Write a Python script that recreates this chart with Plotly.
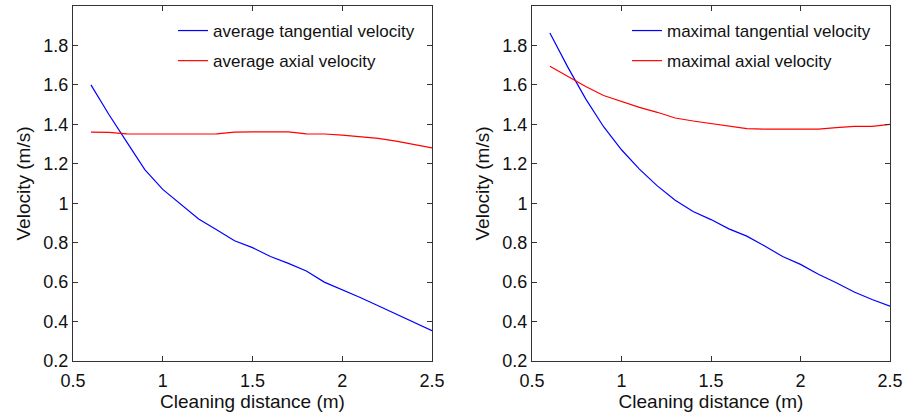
import plotly.graph_objects as go

x = [0.6, 0.7, 0.8, 0.9, 1.0, 1.1, 1.2, 1.3, 1.4, 1.5, 1.6, 1.7, 1.8, 1.9, 2.0, 2.1, 2.2, 2.3, 2.4, 2.5]

avg_tangential = [1.60, 1.45, 1.31, 1.17, 1.07, 0.995, 0.92, 0.865, 0.81, 0.775, 0.73, 0.695, 0.656, 0.60, 0.563, 0.522, 0.48, 0.437, 0.395, 0.354]
avg_axial = [1.36, 1.359, 1.352, 1.351, 1.351, 1.351, 1.351, 1.352, 1.36, 1.362, 1.362, 1.362, 1.352, 1.351, 1.345, 1.337, 1.329, 1.315, 1.297, 1.281]

max_tangential = [1.863, 1.69, 1.529, 1.388, 1.271, 1.173, 1.088, 1.015, 0.958, 0.917, 0.87, 0.833, 0.783, 0.73, 0.69, 0.64, 0.597, 0.55, 0.512, 0.478]
max_axial = [1.695, 1.644, 1.592, 1.546, 1.517, 1.486, 1.461, 1.432, 1.417, 1.403, 1.39, 1.378, 1.376, 1.376, 1.376, 1.376, 1.383, 1.39, 1.39, 1.4]

x_ticks = [0.5, 1, 1.5, 2, 2.5]
x_tick_labels = ["0.5", "1", "1.5", "2", "2.5"]
y_ticks = [0.2, 0.4, 0.6, 0.8, 1.0, 1.2, 1.4, 1.6, 1.8]
y_tick_labels = ["0.2", "0.4", "0.6", "0.8", "1", "1.2", "1.4", "1.6", "1.8"]

BLUE = "#0000FF"
RED = "#FF0000"
FONT = "Liberation Sans, Arial, sans-serif"
TXT = "#111111"

fig = go.Figure()
fig.add_trace(go.Scatter(x=x, y=avg_tangential, mode="lines", name="average tangential velocity",
                         line=dict(color=BLUE, width=1.2), xaxis="x", yaxis="y", legend="legend", legendgroup="a"))
fig.add_trace(go.Scatter(x=x, y=avg_axial, mode="lines", name="average axial velocity",
                         line=dict(color=RED, width=1.2), xaxis="x", yaxis="y", legend="legend", legendgroup="b"))
fig.add_trace(go.Scatter(x=x, y=max_tangential, mode="lines", name="maximal tangential velocity",
                         line=dict(color=BLUE, width=1.2), xaxis="x2", yaxis="y2", legend="legend2", legendgroup="c"))
fig.add_trace(go.Scatter(x=x, y=max_axial, mode="lines", name="maximal axial velocity",
                         line=dict(color=RED, width=1.2), xaxis="x2", yaxis="y2", legend="legend2", legendgroup="d"))

ax_common = dict(showgrid=False, zeroline=False, showline=True, linecolor="#333333", linewidth=1,
                 mirror="ticks", ticks="inside", ticklen=5, tickcolor="#333333", automargin=False,
                 tickfont=dict(family=FONT, size=18, color=TXT))

xa = dict(ax_common, range=[0.5, 2.5], tickvals=x_ticks, ticktext=x_tick_labels, ticklabelstandoff=3,
          title=dict(text="Cleaning distance (m)", font=dict(family=FONT, size=19, color=TXT), standoff=4))
ya = dict(ax_common, range=[0.2, 2.0], tickvals=y_ticks, ticktext=y_tick_labels,
          title=dict(text="Velocity (m/s)", font=dict(family=FONT, size=19, color=TXT), standoff=7))

y_dom = [1 - 361 / 419, 1 - 6 / 419]
leg_common = dict(xanchor="left", yanchor="top", bgcolor="rgba(0,0,0,0)",
                  font=dict(family=FONT, size=17, color=TXT), tracegroupgap=5)
fig.update_layout(
    width=912, height=419, margin=dict(l=0, r=0, t=0, b=0, autoexpand=False),
    paper_bgcolor="white", plot_bgcolor="white",
    xaxis=dict(xa, domain=[73 / 912, 432 / 912], anchor="y"),
    yaxis=dict(ya, domain=y_dom, anchor="x"),
    xaxis2=dict(xa, domain=[532 / 912, 890 / 912], anchor="y2"),
    yaxis2=dict(ya, domain=y_dom, anchor="x2"),
    legend=dict(leg_common, x=173 / 912, y=1 - 13 / 419),
    legend2=dict(leg_common, x=627 / 912, y=1 - 13 / 419),
    showlegend=True,
)

fig.write_html("out.html")
